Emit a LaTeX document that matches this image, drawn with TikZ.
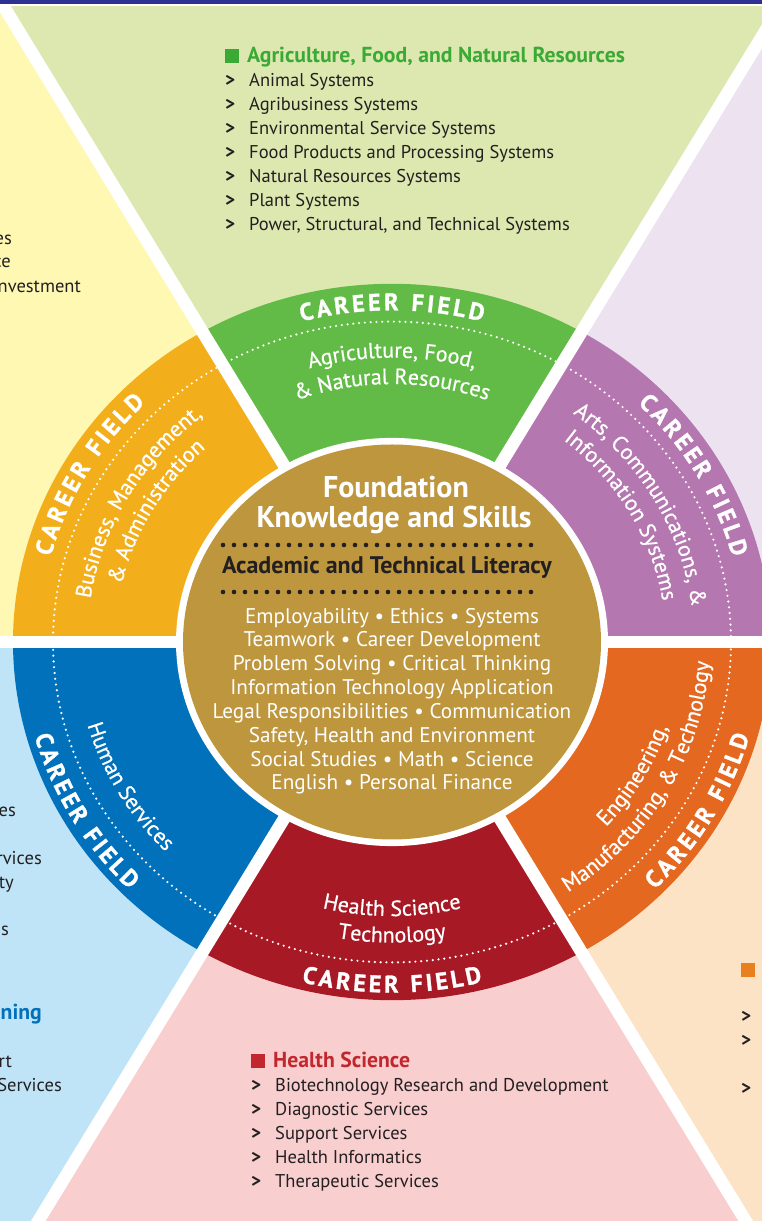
\documentclass[tikz,border=0pt]{standalone}
\usepackage{fontspec}
\setmainfont{PT Sans}
\newfontfamily\ringfam{PT Sans}[FakeBold=0.6]
\newfontfamily\cffam{PT Sans}[FakeBold=1.2]
\usetikzlibrary{decorations.text,calc}
\definecolor{navy}{HTML}{2E3192}
\definecolor{lyel}{HTML}{FFF8B3}
\definecolor{lgrn}{HTML}{DDE8B1}
\definecolor{lpur}{HTML}{EDE2F0}
\definecolor{lblu}{HTML}{BFE4F7}
\definecolor{lpch}{HTML}{FDE3C5}
\definecolor{lpnk}{HTML}{F8CECF}
\definecolor{ryel}{HTML}{F3AF1B}
\definecolor{rgrn}{HTML}{62BB47}
\definecolor{rpur}{HTML}{B577AF}
\definecolor{rblu}{HTML}{0071BA}
\definecolor{rorg}{HTML}{E4681F}
\definecolor{rred}{HTML}{A71A25}
\definecolor{gold}{HTML}{BD963E}
\definecolor{ink}{HTML}{231F20}
\definecolor{hgrn}{HTML}{3AAA35}
\definecolor{hred}{HTML}{C1272D}
\definecolor{horg}{HTML}{E8801E}
\newcommand\rf{\ringfam\fontsize{22}{24}\selectfont}
\newcommand\cf{\cffam\bfseries\fontsize{24}{24}\selectfont}
\newcommand\ringtext[5]{%
  \path[decorate, decoration={text along path, text align=center, text color=white, text={#5}}]
    ($(C)+(#1:#3 and #4)$) arc[start angle=#1, end angle=#2, x radius=#3, y radius=#4];}
\newcommand\careertext[4]{%
  \path[decorate, decoration={text along path, text align=center, text color=white,
    text={|\cf|C{\kern3.2pt}A{\kern3.2pt}R{\kern3.2pt}E{\kern3.2pt}E{\kern3.2pt}R{\kern3.2pt} {\kern3.2pt}F{\kern3.2pt}I{\kern3.2pt}E{\kern3.2pt}L{\kern3.2pt}D}}]
    ($(C)+(#1:#3 and #4)$) arc[start angle=#1, end angle=#2, x radius=#3, y radius=#4];}
\begin{document}
\begin{tikzpicture}[x=1pt,y=1pt,
  listtxt/.style={anchor=base west, inner sep=0pt, text=ink, font=\fontsize{18.5}{22}\selectfont},
  parttxt/.style={anchor=base east, inner sep=0pt, text=ink, font=\fontsize{18.5}{22}\selectfont},
  marker/.style={anchor=base west, inner sep=0pt, text=ink, font=\bfseries\fontsize{19}{22}\selectfont},
  headtxt/.style={anchor=base west, inner sep=0pt, font=\bfseries\fontsize{21.7}{24}\selectfont},
  ctrtxt/.style={anchor=base, inner sep=0pt, text=white, font=\fontsize{21.2}{24}\selectfont},
  bigtxt/.style={anchor=base, inner sep=0pt, text=white, font=\bfseries\fontsize{30}{32}\selectfont},
  dotline/.style={ink, line width=4.6pt, line cap=round, dash pattern=on 0pt off 11pt}]
\useasboundingbox (0,0) rectangle (762,1221);
\clip (0,0) rectangle (762,1221);
\fill[white] (0,0) rectangle (762,1221);
\coordinate (C) at (392,579);
% light outer wedges
\foreach \a/\m/\b/\c in {0/30/60/lpur,60/90/120/lgrn,120/150/180/lyel,180/210/240/lblu,240/270/300/lpnk,300/330/360/lpch}
  \fill[\c] (C) -- ($(C)+(\a:2000pt and 1890pt)$) -- ($(C)+(\m:2000pt and 1890pt)$) -- ($(C)+(\b:2000pt and 1890pt)$) -- cycle;
% ring sectors
\foreach \a/\b/\c in {0/60/rpur,60/120/rgrn,120/180/ryel,180/240/rblu,240/300/rred,300/360/rorg}
  \fill[\c] (C) -- ($(C)+(\a:379pt and 358.2pt)$) arc[start angle=\a, end angle=\b, x radius=379pt, y radius=358.2pt] -- cycle;
% dotted circle
\draw[white, line width=2.4pt, line cap=round, dash pattern=on 0pt off 5.8pt] (C) ellipse [x radius=339pt, y radius=320.4pt];
% separators
\foreach \a in {0,60,...,300}
  \draw[white, line width=12.5pt] (C) -- ($(C)+(\a:2000pt and 1890pt)$);
% centre
\fill[white] (C) ellipse [x radius=216pt, y radius=204.1pt];
\fill[gold] (C) ellipse [x radius=209pt, y radius=197.5pt];
% top bar
\fill[white] (0,1215) rectangle (762,1221);
\fill[navy] (0,1217) rectangle (762,1221);
% ring texts: upper sectors
\careertext{120}{60}{351pt}{331.7pt}
\careertext{180}{120}{353pt}{333.6pt}
\careertext{60}{0}{352pt}{332.6pt}
\ringtext{120}{60}{301pt}{284.4pt}{|\rf|Agriculture{,} Food{,}}
\ringtext{120}{60}{273pt}{258pt}{|\rf|{\&} Natural Resources}
\ringtext{180}{120}{305pt}{288.2pt}{|\rf|Business{,} Management{,}}
\ringtext{180}{120}{277pt}{261.8pt}{|\rf|{\&} Administration}
\ringtext{60}{0}{302pt}{285.4pt}{|\rf|Arts{,} Communications{,} {\&}}
\ringtext{60}{0}{274pt}{258.9pt}{|\rf|Information Systems}
% ring texts: lower sectors
\careertext{180}{240}{371pt}{350.6pt}
\careertext{240}{300}{371pt}{350.6pt}
\careertext{300}{360}{371pt}{350.6pt}
\ringtext{240}{300}{290pt}{274.05pt}{|\rf|Health Science}
\ringtext{240}{300}{318pt}{300.5pt}{|\rf|Technology}
\ringtext{300}{360}{290pt}{274.05pt}{|\rf|Engineering{,}}
\ringtext{300}{360}{318pt}{300.5pt}{|\rf|Manufacturing{,} {\&} Technology}
\ringtext{180}{240}{317pt}{299.6pt}{|\rf|Human Services}
% texts with y measured downward
\begin{scope}[shift={(0pt,1221pt)}, y={(0pt,-1pt)}]
  % agriculture list
  \fill[hgrn] (225,49) rectangle (239,63);
  \node[headtxt, text=hgrn] (agh) at (247,63) {Agriculture, Food, and Natural Resources};
  \foreach \y/\t in {87/Animal Systems, 111/Agribusiness Systems, 135/Environmental Service Systems,
      159/Food Products and Processing Systems, 183/Natural Resources Systems, 207/Plant Systems}
    {\node[marker] at (225,\y) {>}; \node[listtxt] at (249,\y) {\t};}
  \node[marker] (agm7) at (225,231) {>};
  \node[listtxt] (ag7) at (249,231) {Power, Structural, and Technical Systems};
  % health list
  \fill[hred] (251,1054) rectangle (265,1068);
  \node[headtxt, text=hred] (hsh) at (273,1068) {Health Science};
  \foreach \y/\t in {1092/Biotechnology Research and Development, 1116/Diagnostic Services,
      1140/Support Services, 1164/Health Informatics, 1188/Therapeutic Services}
    {\node[marker] at (251,\y) {>}; \node[listtxt] at (275,\y) {\t};}
  % partial texts on the left
  \node[parttxt] (p1) at (12,245) {es};
  \node[parttxt] (p2) at (11,268) {ce};
  \node[parttxt] (p3) at (81,293) {nvestment};
  \node[parttxt] (p4) at (16,817) {es};
  \node[parttxt] (p5) at (42,865) {rvices};
  \node[parttxt] (p6) at (14,889) {ty};
  \node[parttxt] (p7) at (9,936) {es};
  \node[parttxt, text=rblu, font=\bfseries\fontsize{21.7}{24}\selectfont] (p8) at (42,1020) {ning};
  \node[parttxt] (p9) at (12,1068) {rt};
  \node[parttxt] (p10) at (62,1092) {Services};
  % partial texts on the right
  \fill[horg] (741,963) rectangle (755,977);
  \node[marker] (r1) at (741,1023) {>};
  \node[marker] (r2) at (741,1047) {>};
  \node[marker] (r3) at (741,1095) {>};
  % centre texts
  \node[bigtxt] (f1) at (396,498) {Foundation};
  \node[bigtxt] (f2) at (394,528) {Knowledge and Skills};
  \draw[dotline] (223,545) -- (542,545);
  \node[ctrtxt, text=ink, font=\bfseries\fontsize{24}{26}\selectfont] (atl) at (387,574) {Academic and Technical Literacy};
  \draw[dotline] (223,592) -- (542,592);
  \node[ctrtxt] (c1) at (392,624) {Employability \textbullet{} Ethics \textbullet{} Systems};
  \node[ctrtxt] (c2) at (392,647) {Teamwork \textbullet{} Career Development};
  \node[ctrtxt] (c3) at (392,671) {Problem Solving \textbullet{} Critical Thinking};
  \node[ctrtxt] (c4) at (392,695) {Information Technology Application};
  \node[ctrtxt] (c5) at (392,719) {Legal Responsibilities \textbullet{} Communication};
  \node[ctrtxt] (c6) at (392,743) {Safety, Health and Environment};
  \node[ctrtxt] (c7) at (392,767) {Social Studies \textbullet{} Math \textbullet{} Science};
  \node[ctrtxt] (c8) at (392,790) {English \textbullet{} Personal Finance};
\end{scope}
\end{tikzpicture}
\end{document}
